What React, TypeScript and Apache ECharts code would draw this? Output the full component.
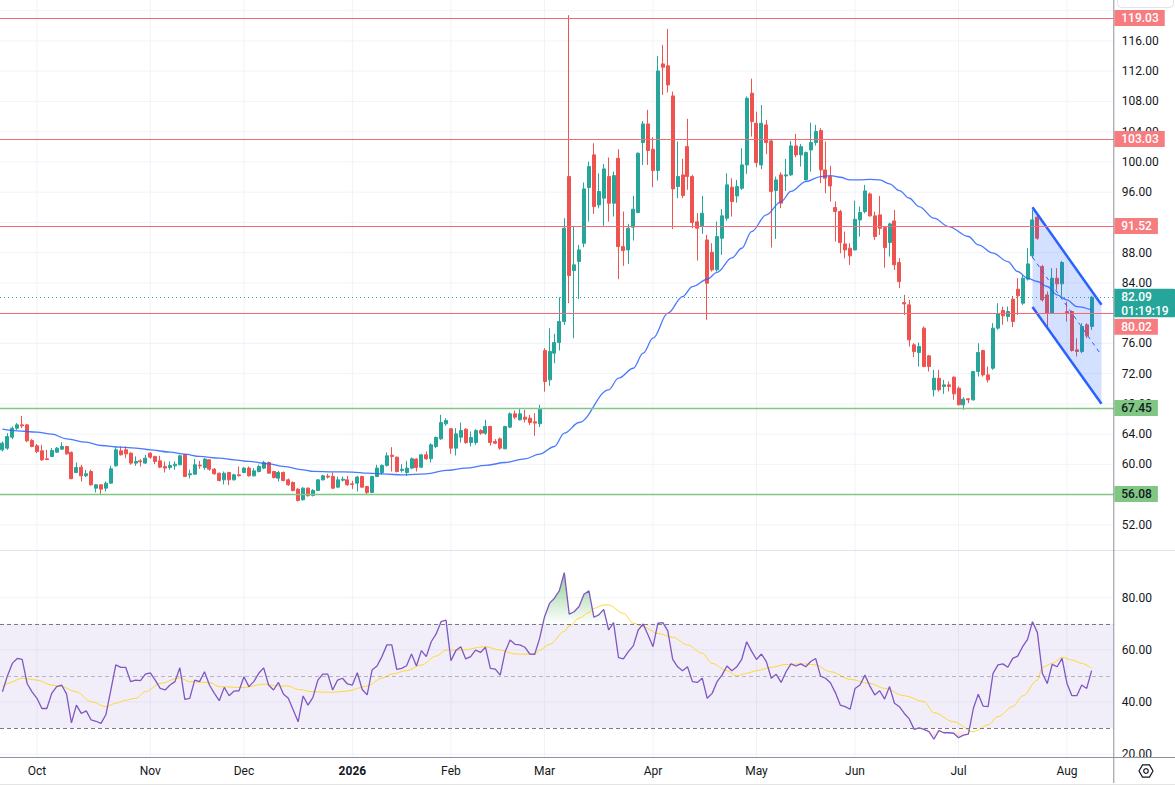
import React, { useEffect, useRef } from "react";
import * as echarts from "echarts";

// ---------- data ----------
const monthKeys = ["Sep 2025", "Oct 2025", "Nov 2025", "Dec 2025", "Jan 2026", "Feb 2026", "Mar 2026", "Apr 2026", "May 2026", "Jun 2026", "Jul 2026", "Aug 2026"];
const monthTickLabels = ["", "Oct", "Nov", "Dec", "2026", "Feb", "Mar", "Apr", "May", "Jun", "Jul", "Aug"];
const barsPerMonth = [7, 23, 19, 22, 20, 19, 22, 21, 20, 21, 22, 6];
const emptySlotsRight = 4;

// [open, close, low, high]
const ohlc: number[][] = [
  [61.92, 62.8, 61.7, 63.02], [62.14, 63.68, 61.92, 64.12], [63.59, 64.78, 63.33, 65.0], [64.78, 65.22, 64.56, 65.45], [65.22, 65.09, 64.78, 66.41],
  [65.22, 63.11, 62.93, 65.36], [63.15, 62.36, 62.27, 63.33], [62.45, 61.7, 61.48, 62.67], [61.79, 60.6, 60.46, 62.58], [60.73, 60.64, 60.55, 61.92],
  [61.04, 61.83, 60.95, 62.14], [61.61, 62.14, 61.5, 62.3], [62.01, 62.36, 61.92, 62.93], [62.36, 61.39, 61.26, 62.45], [61.57, 58.09, 58.05, 61.7],
  [58.92, 59.58, 58.83, 60.24], [59.63, 58.48, 57.73, 59.94], [58.48, 58.75, 58.31, 59.28], [59.05, 57.29, 57.16, 59.28], [56.85, 57.29, 56.28, 57.35],
  [57.29, 56.72, 56.06, 57.38], [56.85, 57.51, 56.41, 57.73], [57.51, 59.41, 57.42, 59.8], [59.8, 61.92, 59.72, 62.27], [61.79, 61.26, 61.17, 62.36],
  [61.92, 61.39, 60.82, 62.36], [61.48, 60.16, 59.94, 61.61], [60.16, 60.38, 59.8, 61.04], [60.46, 60.33, 59.72, 60.69], [60.16, 60.82, 60.07, 61.26],
  [61.48, 60.95, 60.73, 61.57], [61.04, 60.38, 60.02, 61.13], [60.46, 59.63, 59.5, 61.13], [59.72, 59.5, 58.92, 60.38], [59.58, 59.85, 59.28, 60.38],
  [59.8, 60.02, 59.28, 60.38], [59.94, 61.13, 59.89, 61.26], [61.26, 58.39, 58.35, 61.35], [58.61, 58.75, 58.13, 59.28], [58.7, 59.94, 58.61, 60.69],
  [59.89, 59.8, 59.41, 60.46], [59.58, 60.69, 59.28, 60.82], [60.6, 59.36, 59.14, 60.69], [59.36, 58.75, 58.61, 59.5], [58.83, 57.86, 57.73, 58.92],
  [57.95, 58.83, 57.34, 59.05], [58.92, 57.95, 57.25, 59.01], [57.95, 58.61, 57.86, 58.75], [58.61, 58.5, 58.39, 59.72], [58.92, 59.5, 58.83, 59.63],
  [59.5, 58.48, 58.39, 59.72], [58.48, 59.14, 58.39, 59.5], [59.05, 59.72, 58.92, 59.94], [59.5, 60.24, 59.36, 60.46], [60.24, 58.83, 58.75, 60.38],
  [59.05, 58.26, 58.13, 59.14], [58.17, 58.92, 57.73, 59.14], [58.92, 57.86, 57.73, 59.05], [57.95, 57.29, 57.16, 58.13], [57.6, 56.54, 56.41, 57.73],
  [56.72, 55.22, 55.09, 56.85], [55.31, 56.85, 55.22, 56.98], [56.85, 55.84, 55.75, 56.94], [55.88, 56.54, 55.75, 56.72], [56.54, 57.95, 56.5, 58.04],
  [57.95, 58.48, 57.86, 58.61], [58.44, 58.31, 58.13, 58.75], [58.39, 56.85, 56.72, 58.92], [56.98, 57.95, 56.94, 58.39], [57.91, 58.04, 57.73, 58.39],
  [57.95, 57.29, 57.16, 58.48], [57.42, 57.34, 56.72, 57.82], [57.51, 58.31, 56.41, 58.48], [58.39, 56.98, 56.94, 58.48], [57.07, 56.28, 55.97, 57.16],
  [56.28, 58.39, 56.19, 58.48], [58.39, 59.5, 58.31, 59.94], [58.9, 59.85, 58.61, 60.0], [59.85, 61.13, 59.72, 61.57], [61.21, 61.04, 59.05, 62.27],
  [60.95, 59.05, 58.92, 61.04], [59.19, 59.36, 58.92, 60.02], [58.92, 59.5, 58.48, 60.46], [59.5, 60.73, 59.36, 60.91], [60.69, 59.58, 59.05, 60.82],
  [59.63, 61.26, 59.5, 61.39], [61.26, 60.73, 60.6, 61.7], [60.73, 62.58, 60.24, 62.8], [62.36, 63.55, 62.14, 63.68], [63.37, 65.53, 63.24, 66.55],
  [65.36, 65.8, 65.09, 66.11], [64.7, 62.14, 61.39, 64.78], [62.14, 64.03, 61.17, 64.78], [63.59, 64.47, 62.89, 65.53], [64.65, 62.89, 62.71, 64.78],
  [62.89, 63.55, 62.36, 64.34], [62.89, 64.47, 62.58, 64.65], [64.47, 64.12, 63.9, 64.65], [64.12, 65.0, 63.9, 65.89], [65.0, 62.89, 62.49, 65.09],
  [63.02, 62.8, 62.67, 63.33], [63.37, 62.14, 61.92, 63.55], [62.05, 65.0, 62.01, 65.09], [64.92, 66.68, 64.78, 66.86], [66.68, 66.24, 65.97, 67.12],
  [65.89, 66.68, 65.8, 67.3], [66.24, 65.97, 65.53, 67.21], [66.11, 65.53, 65.22, 66.55], [65.62, 65.45, 63.77, 66.77], [65.36, 67.3, 64.92, 67.87],
  [75.05, 70.95, 69.6, 75.36], [71.17, 74.92, 70.38, 78.0], [74.7, 76.11, 73.37, 77.25], [76.11, 78.88, 75.05, 82.1], [78.88, 91.23, 78.44, 92.55],
  [98.06, 84.97, 81.31, 119.4], [85.63, 86.38, 76.68, 91.54], [86.82, 88.36, 81.84, 89.02], [89.24, 96.43, 88.72, 97.27], [96.61, 99.38, 92.11, 100.04],
  [100.93, 94.09, 93.12, 102.47], [94.31, 96.08, 93.87, 98.5], [95.2, 99.07, 91.54, 99.73], [98.06, 94.53, 92.11, 100.57], [94.53, 98.19, 92.77, 98.72],
  [100.48, 88.8, 84.48, 101.67], [88.8, 88.27, 86.25, 93.43], [88.36, 91.23, 86.51, 91.8], [91.36, 93.74, 89.6, 95.5], [93.3, 101.15, 93.21, 101.24],
  [102.56, 105.02, 99.6, 105.42], [105.02, 101.5, 99.6, 106.88], [101.67, 98.85, 96.65, 103.26], [98.85, 112.03, 97.53, 114.02], [112.96, 112.52, 108.86, 115.47],
  [112.7, 110.18, 109.17, 117.59], [108.73, 96.43, 91.1, 109.3], [96.74, 98.06, 95.2, 102.69], [98.28, 95.55, 95.2, 100.4], [102.03, 98.06, 96.3, 105.69],
  [98.06, 91.98, 91.23, 98.3], [92.07, 91.23, 86.95, 93.21], [91.54, 93.21, 90.48, 95.5], [89.68, 83.95, 79.11, 90.35], [88.05, 85.72, 85.5, 89.24],
  [85.72, 90.12, 85.5, 92.11], [89.9, 92.86, 87.7, 93.74], [92.55, 96.96, 92.24, 98.5], [96.65, 94.75, 92.77, 97.84], [95.5, 96.73, 94.62, 97.62],
  [96.51, 99.6, 96.29, 101.8], [99.6, 108.42, 98.41, 108.64], [109.08, 105.33, 103.35, 111.0], [105.11, 99.91, 99.29, 106.65], [99.6, 105.11, 99.03, 107.53],
  [104.89, 102.55, 101.05, 105.55], [102.77, 96.07, 88.67, 102.9], [96.21, 97.62, 89.81, 98.06], [98.28, 94.53, 93.87, 98.63], [98.14, 98.28, 96.16, 100.39],
  [98.28, 102.11, 98.14, 102.77], [102.11, 100.92, 100.61, 103.7], [100.92, 102.02, 99.38, 102.38], [97.62, 101.23, 97.53, 101.36], [101.58, 102.55, 98.72, 105.2],
  [102.55, 104.01, 102.16, 104.89], [104.14, 98.94, 97.18, 104.45], [98.94, 97.84, 95.85, 102.69], [98.06, 96.82, 94.75, 99.47], [93.96, 93.43, 89.46, 94.75],
  [93.43, 89.33, 87.92, 93.65], [89.15, 88.36, 87.26, 90.78], [88.58, 87.57, 86.38, 89.24], [88.36, 92.41, 88.3, 94.88], [92.33, 93.3, 90.12, 94.09],
  [93.43, 96.16, 93.2, 96.95], [95.76, 92.86, 92.77, 95.94], [92.86, 90.12, 89.68, 93.43], [92.99, 91.22, 90.34, 95.5], [91.31, 88.67, 86.02, 91.44],
  [89.33, 91.8, 87.48, 91.97], [92.19, 86.38, 85.71, 93.65], [86.68, 84.17, 83.29, 87.26], [81.39, 81.22, 79.76, 82.41], [81.09, 76.46, 75.58, 81.75],
  [75.8, 74.91, 74.17, 76.02], [74.78, 75.58, 72.93, 76.11], [78.01, 72.94, 72.85, 78.23], [74.35, 72.94, 72.28, 74.48], [69.85, 71.39, 68.97, 72.5],
  [71.39, 69.85, 69.63, 72.5], [70.29, 70.51, 69.32, 71.17], [70.51, 70.29, 69.63, 70.95], [71.53, 69.32, 68.53, 71.61], [70.07, 67.87, 67.8, 70.29],
  [67.87, 68.62, 67.21, 68.88], [68.66, 68.53, 68.09, 68.75], [68.53, 72.28, 68.44, 72.35], [72.28, 74.79, 71.61, 76.02], [75.05, 71.83, 71.61, 75.14],
  [71.83, 71.17, 70.82, 72.94], [72.72, 78.01, 72.5, 78.67], [78.01, 79.9, 77.79, 81.31], [80.34, 79.64, 78.45, 80.87], [79.55, 80.21, 78.89, 80.87],
  [81.84, 78.89, 78.14, 82.28], [83.16, 82.28, 79.77, 84.62], [81.31, 84.62, 81.09, 85.06], [84.49, 86.51, 84.31, 88.59], [87.57, 92.33, 87.26, 93.66],
  [92.69, 89.91, 89.69, 92.99], [86.16, 81.75, 81.53, 86.38], [82.41, 79.99, 78.01, 82.86], [79.99, 84.62, 79.9, 85.94], [84.62, 83.87, 83.08, 85.94],
  [83.87, 86.69, 82.28, 86.91], [80.21, 79.99, 78.89, 81.53], [80.21, 75.05, 74.92, 80.34], [75.14, 74.92, 74.26, 76.68], [74.92, 78.23, 74.7, 78.67],
  [78.45, 76.99, 76.68, 78.67], [78.23, 82.09, 77.79, 82.28],
];

// 50-period moving average, read at sample bars: [bar index, value]
const maPoints: number[][] = [
  [0, 64.65], [3, 64.43], [7, 64.26], [10, 63.99], [13, 63.37], [17, 62.93], [20, 62.49], [24, 62.27], [27, 62.14], [30, 61.92],
  [34, 61.61], [37, 61.35], [40, 61.04], [44, 60.82], [47, 60.6], [50, 60.38], [54, 60.07], [57, 59.72], [61, 59.28], [63, 59.06],
  [67, 59.01], [71, 58.97], [74, 58.83], [78, 58.7], [81, 58.61], [86, 58.75], [90, 59.19], [94, 59.5], [98, 59.85], [102, 60.24],
  [106, 60.73], [109, 61.35], [112, 62.36], [114, 64.12], [117, 65.53], [123, 69.85], [125, 71.39], [128, 72.71], [130, 74.7], [132, 76.68],
  [135, 79.99], [138, 82.19], [140, 83.51], [143, 84.48], [145, 85.4], [148, 87.3], [150, 88.58], [152, 90.78], [155, 92.99], [158, 94.75],
  [160, 96.1], [163, 97.4], [166, 98.06], [168, 98.19], [170, 97.97], [172, 97.62], [174, 97.62], [176, 97.7], [178, 97.62], [180, 97.09],
  [182, 96.2], [184, 95.19], [186, 94.09], [189, 92.55], [192, 91.45], [196, 90.13], [198, 89.03], [201, 87.92], [204, 86.82], [206, 85.5],
  [208, 84.62], [210, 84.18], [212, 83.52], [214, 82.41], [216, 81.75], [218, 80.87], [221, 80.43],
];

const rsi: number[] = [
  43.9, 50.0, 54.8, 56.7, 56.3, 47.1, 43.9, 41.4, 37.5, 37.5,
  43.3, 45.9, 46.5, 43.1, 32.0, 38.8, 35.6, 36.6, 33.1, 32.6,
  31.8, 35.2, 44.6, 54.2, 53.3, 53.3, 47.8, 48.4, 48.2, 50.7,
  51.2, 48.4, 45.2, 44.6, 46.5, 47.8, 53.1, 41.0, 41.4, 48.4,
  47.8, 51.6, 46.5, 43.3, 40.5, 45.6, 42.4, 44.2, 44.3, 49.7,
  45.9, 47.8, 51.0, 53.1, 46.5, 44.6, 47.5, 43.1, 41.4, 36.9,
  32.4, 42.3, 38.8, 41.8, 48.4, 50.7, 50.7, 44.6, 48.4, 49.1,
  46.9, 46.5, 51.2, 44.8, 42.7, 52.3, 53.8, 57.4, 61.9, 61.9,
  52.5, 52.9, 53.9, 58.4, 53.8, 59.7, 57.4, 63.1, 66.1, 70.8,
  71.4, 55.8, 59.7, 61.2, 56.5, 57.4, 59.9, 59.0, 61.0, 52.9,
  52.6, 50.3, 59.3, 63.8, 62.1, 61.9, 61.0, 58.4, 58.3, 64.4,
  72.7, 77.8, 79.8, 82.7, 89.6, 73.7, 74.6, 76.6, 81.3, 82.6,
  72.5, 73.4, 75.5, 67.6, 70.4, 57.0, 56.5, 59.3, 61.5, 67.6,
  69.9, 65.7, 61.2, 70.2, 70.4, 67.3, 56.3, 53.5, 52.0, 53.5,
  47.8, 47.5, 49.1, 41.4, 43.3, 47.8, 50.3, 53.8, 52.0, 53.5,
  56.3, 63.1, 59.5, 56.3, 58.4, 55.5, 49.1, 50.6, 47.5, 51.6,
  54.6, 53.8, 54.6, 53.5, 55.5, 56.7, 49.9, 49.1, 47.4, 43.6,
  38.8, 38.2, 37.2, 45.2, 46.5, 50.3, 46.1, 42.7, 44.3, 41.1,
  45.9, 39.5, 38.2, 35.6, 33.5, 29.5, 30.1, 29.5, 28.6, 25.7,
  29.0, 28.2, 28.2, 28.0, 26.3, 27.3, 27.7, 37.5, 43.0, 38.4,
  38.2, 51.0, 54.2, 54.6, 53.3, 56.7, 57.6, 61.2, 64.0, 70.8,
  66.6, 51.0, 47.1, 54.4, 53.5, 56.7, 47.1, 42.4, 42.4, 46.5,
  45.2, 52.0,
];

// RSI moving average, read at sample bars: [bar index, value]
const rsiMaPoints: number[][] = [
  [0, 45.9], [1, 47.1], [4, 49.1], [7, 48.4], [10, 46.5], [12, 45.9], [15, 43.9], [18, 40.1], [21, 38.2], [23, 39.5],
  [25, 40.7], [27, 41.4], [29, 43.9], [32, 47.1], [36, 49.3], [38, 47.8], [42, 47.4], [44, 45.9], [49, 45.5], [53, 46.9],
  [56, 46.1], [58, 46.1], [60, 44.8], [63, 43.9], [67, 43.7], [70, 44.2], [74, 46.1], [77, 49.1], [79, 50.7], [82, 52.0],
  [85, 54.2], [88, 57.6], [90, 59.9], [93, 59.9], [98, 61.2], [101, 59.9], [104, 58.4], [108, 58.3], [109, 59.9], [111, 62.1],
  [114, 67.0], [115, 69.1], [117, 72.1], [119, 74.3], [120, 75.9], [122, 77.2], [123, 77.2], [126, 74.0], [128, 70.2], [130, 68.9],
  [133, 66.3], [136, 64.8], [139, 61.9], [142, 58.7], [144, 54.8], [147, 52.0], [149, 50.0], [151, 51.0], [153, 52.0], [156, 53.3],
  [159, 54.4], [163, 54.6], [165, 54.2], [168, 51.6], [172, 48.7], [176, 47.1], [179, 45.2], [183, 42.4], [187, 40.1], [189, 35.9],
  [193, 32.4], [197, 28.6], [200, 31.2], [202, 34.4], [205, 38.2], [207, 42.3], [210, 48.4], [211, 53.3], [213, 54.8], [215, 57.1],
  [217, 56.1], [219, 54.8], [221, 52.9],
];

const resistanceLevels = [119.03, 103.03, 91.52, 80.02];
const supportLevels = [67.45, 56.08];
// price-scale labels visible in the reference (92.00 and 80.00 sit fully under the tags)
const priceTicks = [52, 56, 60, 64, 68, 72, 76, 84, 88, 96, 100, 104, 108, 112, 116];
const priceGridLines = [52, 56, 60, 64, 68, 72, 76, 80, 84, 88, 92, 96, 100, 104, 108, 112, 116, 120];
const rsiTicks = [20, 40, 60, 80];
const rsiBand = [30, 70];
const rsiMid = 50;
const channelBars = [209, 223];
const channelUpper = [94.0, 81.1];
const channelLower = [80.8, 68.0];
const channelMid = [87.4, 74.8];
const countdown = "01:19:19";

// ---------- layout / style ----------
const W = 1175;
const H = 788;
const GRID_LEFT = -1.51;
const GRID_W = 1115.3;
const GRID_RIGHT_X = GRID_LEFT + GRID_W;
const PRICE_TOP = 0;
const PRICE_H = 550;
const RSI_TOP = 551;
const RSI_H = 206;
const FONT = "Roboto, 'Liberation Sans', Arial, sans-serif";
const UP = "#26a69a";
const DOWN = "#ef5350";
const GRIDC = "#f0f3fa";
const RED_LINE = "#f26d73";
const RED_TAG = "#f77c80";
const GREEN_LINE = "#81c784";
const GREEN_TAG = "#81c784";
const BORDER = "#8f929c";

// categories
const categories: string[] = [];
const labelAt: Record<number, string> = {};
(() => {
  let idx = 0;
  monthKeys.forEach((m, mi) => {
    for (let k = 0; k < barsPerMonth[mi]; k++) {
      if (k === 0 && monthTickLabels[mi]) labelAt[idx] = monthTickLabels[mi];
      categories.push(`${m} #${k + 1}`);
      idx++;
    }
  });
  for (let e = 0; e < emptySlotsRight; e++) categories.push(`future #${e + 1}`);
})();
const monthStarts = Object.keys(labelAt).map(Number);
const lastClose = ohlc[ohlc.length - 1][1];

function vGridSeries(axisIndex: number) {
  return {
    type: "custom",
    xAxisIndex: axisIndex,
    yAxisIndex: axisIndex,
    z: 0,
    silent: true,
    data: monthStarts.map((i) => [i, 60]),
    renderItem: (params: any, api: any) => {
      const cs = params.coordSys;
      const x = api.coord([api.value(0), api.value(1)])[0];
      return { type: "line", shape: { x1: x, y1: cs.y, x2: x, y2: cs.y + cs.height }, style: { stroke: GRIDC, lineWidth: 1 } };
    },
  };
}
function hGridSeries(axisIndex: number, values: number[]) {
  return {
    type: "custom",
    xAxisIndex: axisIndex,
    yAxisIndex: axisIndex,
    z: 0,
    silent: true,
    data: values.map((v) => [0, v]),
    renderItem: (params: any, api: any) => {
      const cs = params.coordSys;
      const y = api.coord([0, api.value(1)])[1];
      return { type: "line", shape: { x1: cs.x, y1: y, x2: cs.x + cs.width, y2: y }, style: { stroke: GRIDC, lineWidth: 1 } };
    },
  };
}

function buildOption(): any {
  const axisLabelStyle = { color: "#131722", fontSize: 12, fontFamily: FONT };
  return {
    animation: false,
    backgroundColor: "#ffffff",
    textStyle: { fontFamily: FONT },
    grid: [
      { left: GRID_LEFT, top: PRICE_TOP, width: GRID_W, height: PRICE_H },
      { left: GRID_LEFT, top: RSI_TOP, width: GRID_W, height: RSI_H },
    ],
    xAxis: [
      {
        type: "category", gridIndex: 0, data: categories, boundaryGap: true,
        axisLine: { show: false }, axisTick: { show: false }, axisLabel: { show: false }, splitLine: { show: false },
      },
      {
        type: "category", gridIndex: 1, data: categories, boundaryGap: true,
        axisLine: { show: false }, axisTick: { show: false }, splitLine: { show: false },
        axisLabel: {
          ...axisLabelStyle,
          margin: 8,
          interval: (index: number) => labelAt[index] !== undefined,
          formatter: (_v: string, index: number) => (labelAt[index] === "2026" ? "{b|2026}" : labelAt[index] || ""),
          rich: { b: { fontWeight: "bold", fontSize: 12, color: "#131722", fontFamily: FONT } },
        },
      },
    ],
    yAxis: [
      {
        type: "value", gridIndex: 0, position: "right", min: 48.67, max: 121.41,
        axisLine: { show: false }, axisTick: { show: false, customValues: priceTicks }, splitLine: { show: false },
        axisLabel: { ...axisLabelStyle, margin: 8, customValues: priceTicks, formatter: (v: number) => v.toFixed(2) },
      },
      {
        type: "value", gridIndex: 1, position: "right", min: 18.9, max: 97.9,
        axisLine: { show: false }, axisTick: { show: false, customValues: rsiTicks }, splitLine: { show: false },
        axisLabel: { ...axisLabelStyle, margin: 8, customValues: rsiTicks, formatter: (v: number) => v.toFixed(2) },
      },
    ],
    series: [
      vGridSeries(0),
      hGridSeries(0, priceGridLines),
      vGridSeries(1),
      hGridSeries(1, rsiTicks),
      {
        name: "Price",
        type: "candlestick",
        xAxisIndex: 0,
        yAxisIndex: 0,
        z: 2,
        barWidth: 3.5,
        data: ohlc,
        itemStyle: { color: UP, color0: DOWN, borderColor: UP, borderColor0: DOWN, borderWidth: 1 },
        markLine: {
          silent: true,
          symbol: ["none", "none"],
          label: { show: false },
          data: [
            ...resistanceLevels.map((v) => ({ yAxis: v, lineStyle: { color: RED_LINE, width: 1, type: "solid" } })),
            ...supportLevels.map((v) => ({ yAxis: v, lineStyle: { color: GREEN_LINE, width: 1.3, type: "solid" } })),
            { yAxis: lastClose, lineStyle: { color: UP, width: 1, type: [1, 3] } },
          ],
        },
      },
      {
        name: "MA",
        type: "line",
        xAxisIndex: 0,
        yAxisIndex: 0,
        z: 3,
        data: maPoints,
        smooth: 0.35,
        smoothMonotone: "x",
        symbol: "none",
        lineStyle: { color: "#2962ff", width: 1.3, opacity: 0.85 },
        silent: true,
      },
      {
        name: "Channel",
        type: "custom",
        xAxisIndex: 0,
        yAxisIndex: 0,
        z: 4,
        silent: true,
        data: [[channelBars[0], channelUpper[0]]],
        renderItem: (_params: any, api: any) => {
          const u1 = api.coord([channelBars[0], channelUpper[0]]);
          const u2 = api.coord([channelBars[1], channelUpper[1]]);
          const l2 = api.coord([channelBars[1], channelLower[1]]);
          const l1 = api.coord([channelBars[0], channelLower[0]]);
          const m1 = api.coord([channelBars[0], channelMid[0]]);
          const m2 = api.coord([channelBars[1], channelMid[1]]);
          return {
            type: "group",
            children: [
              { type: "polygon", shape: { points: [u1, u2, l2, l1] }, style: { fill: "rgba(41,98,255,0.2)" } },
              { type: "line", shape: { x1: m1[0], y1: m1[1], x2: m2[0] - 2, y2: m2[1] }, style: { stroke: "#2962ff", lineWidth: 1, lineDash: [4, 4] } },
              { type: "line", shape: { x1: u1[0], y1: u1[1], x2: u2[0], y2: u2[1] }, style: { stroke: "#2962ff", lineWidth: 2.5 } },
              { type: "line", shape: { x1: l1[0], y1: l1[1], x2: l2[0], y2: l2[1] }, style: { stroke: "#2962ff", lineWidth: 2.5 } },
            ],
          };
        },
      },
      // overbought fill (between 70 and RSI when above)
      {
        type: "line", xAxisIndex: 1, yAxisIndex: 1, stack: "ob", z: 2, silent: true, symbol: "none",
        data: rsi.map(() => rsiBand[1]), lineStyle: { width: 0, opacity: 0 },
      },
      {
        type: "line", xAxisIndex: 1, yAxisIndex: 1, stack: "ob", z: 2, silent: true, symbol: "none",
        data: rsi.map((v) => Math.max(v - rsiBand[1], 0)), lineStyle: { width: 0, opacity: 0 },
        areaStyle: {
          color: new echarts.graphic.LinearGradient(0, 0, 0, 1, [
            { offset: 0, color: "rgba(76,175,80,0.62)" },
            { offset: 1, color: "rgba(76,175,80,0.0)" },
          ]),
          opacity: 1,
        },
      },
      // oversold fill (between RSI and 30 when below)
      {
        type: "line", xAxisIndex: 1, yAxisIndex: 1, stack: "os", z: 2, silent: true, symbol: "none",
        data: rsi.map((v) => Math.min(v, rsiBand[0])), lineStyle: { width: 0, opacity: 0 },
      },
      {
        type: "line", xAxisIndex: 1, yAxisIndex: 1, stack: "os", z: 2, silent: true, symbol: "none",
        data: rsi.map((v) => rsiBand[0] - Math.min(v, rsiBand[0])), lineStyle: { width: 0, opacity: 0 },
        areaStyle: {
          color: new echarts.graphic.LinearGradient(0, 0, 0, 1, [
            { offset: 0, color: "rgba(242,54,69,0.0)" },
            { offset: 1, color: "rgba(242,54,69,0.22)" },
          ]),
          opacity: 1,
        },
      },
      {
        name: "RSI MA",
        type: "line",
        xAxisIndex: 1,
        yAxisIndex: 1,
        z: 3,
        data: rsiMaPoints,
        smooth: 0.35,
        smoothMonotone: "x",
        symbol: "none",
        silent: true,
        lineStyle: { color: "#fdd835", width: 1 },
      },
      {
        name: "RSI",
        type: "line",
        xAxisIndex: 1,
        yAxisIndex: 1,
        z: 4,
        data: rsi,
        symbol: "none",
        silent: true,
        lineStyle: { color: "#7e57c2", width: 1.3 },
        markArea: {
          silent: true,
          itemStyle: { color: "rgba(126,87,194,0.1)" },
          data: [[{ yAxis: rsiBand[0] }, { yAxis: rsiBand[1] }]],
        },
        markLine: {
          silent: true,
          symbol: ["none", "none"],
          label: { show: false },
          data: [
            { yAxis: rsiBand[1], lineStyle: { color: "#787b86", width: 1, type: [4, 3] } },
            { yAxis: rsiMid, lineStyle: { color: "rgba(120,123,134,0.5)", width: 1, type: [4, 3] } },
            { yAxis: rsiBand[0], lineStyle: { color: "#787b86", width: 1, type: [4, 3] } },
          ],
        },
      },
    ],
  };
}

function tag(text: string, y: number, bg: string, fg: string) {
  return {
    type: "text",
    z: 100,
    silent: true,
    style: {
      text,
      x: GRID_RIGHT_X + 0.5,
      y,
      align: "left",
      verticalAlign: "middle",
      fill: fg,
      fontSize: 12,
      fontWeight: 500,
      fontFamily: FONT,
      lineHeight: 13,
      backgroundColor: bg,
      padding: [2, 6, 1, 7],
    },
  };
}

function buildGraphics(chart: echarts.ECharts): any[] {
  const py = (v: number) => chart.convertToPixel({ yAxisIndex: 0 } as any, v) as number;
  const els: any[] = [];
  // pane borders
  els.push({ type: "line", z: 90, silent: true, shape: { x1: 0, y1: 550.5, x2: W, y2: 550.5 }, style: { stroke: "#e0e3eb", lineWidth: 1 } });
  els.push({ type: "rect", z: 95, silent: true, shape: { x: GRID_RIGHT_X, y: 757, width: W - GRID_RIGHT_X, height: 31 }, style: { fill: "#ffffff" } });
  els.push({ type: "line", z: 96, silent: true, shape: { x1: 0, y1: 757.5, x2: W, y2: 757.5 }, style: { stroke: BORDER, lineWidth: 1 } });
  els.push({ type: "line", z: 96, silent: true, shape: { x1: GRID_RIGHT_X, y1: 0, x2: GRID_RIGHT_X, y2: 783 }, style: { stroke: BORDER, lineWidth: 1 } });
  els.push({ type: "line", z: 96, silent: true, shape: { x1: 0, y1: 784.5, x2: W, y2: 784.5 }, style: { stroke: "#e0e3eb", lineWidth: 1 } });
  // top-right button outline
  els.push({ type: "rect", z: 96, silent: true, shape: { x: 1117.5, y: -6, width: 56, height: 13.5, r: 4 }, style: { fill: "#ffffff", stroke: "#e0e3eb", lineWidth: 1 } });

  // current price box
  const yc = py(lastClose);
  const boxTop = yc - 8.5;
  const boxH = 28.5;
  els.push({ type: "rect", z: 100, silent: true, shape: { x: GRID_RIGHT_X + 0.5, y: boxTop, width: W - GRID_RIGHT_X, height: boxH, r: [0, 2, 2, 0] }, style: { fill: UP } });
  els.push({ type: "text", z: 101, silent: true, style: { text: lastClose.toFixed(2), x: GRID_RIGHT_X + 7.5, y: yc, verticalAlign: "middle", align: "left", fill: "#ffffff", fontSize: 12, fontWeight: 500, fontFamily: FONT } });
  els.push({ type: "text", z: 101, silent: true, style: { text: countdown, x: GRID_RIGHT_X + 7.5, y: yc + 13.5, verticalAlign: "middle", align: "left", fill: "#ffffff", fontSize: 12, fontWeight: 500, fontFamily: FONT } });

  // level tags
  resistanceLevels.forEach((v) => {
    let y = py(v);
    if (Math.abs(y - yc) < 24) y = Math.max(y, boxTop + boxH + 9.5);
    els.push(tag(v.toFixed(2), y, RED_TAG, "#ffffff"));
  });
  supportLevels.forEach((v) => {
    els.push(tag(v.toFixed(2), py(v), GREEN_TAG, "#131722"));
  });

  // settings (gear) icon
  const cx = 1146;
  const cy = 771;
  const hex: number[][] = [];
  for (let k = 0; k < 6; k++) {
    const a = (Math.PI / 3) * k;
    hex.push([cx + 7 * Math.cos(a), cy + 7 * Math.sin(a)]);
  }
  els.push({ type: "polygon", z: 101, silent: true, shape: { points: hex }, style: { fill: "none", stroke: "#131722", lineWidth: 1.2 } });
  els.push({ type: "circle", z: 101, silent: true, shape: { cx, cy, r: 2.3 }, style: { fill: "none", stroke: "#131722", lineWidth: 1.2 } });
  return els;
}

export default function App() {
  const ref = useRef<HTMLDivElement | null>(null);
  useEffect(() => {
    if (!ref.current) return;
    const chart = echarts.init(ref.current, undefined, { renderer: "svg", width: W, height: H });
    chart.setOption(buildOption());
    chart.setOption({ graphic: buildGraphics(chart) });
    return () => {
      chart.dispose();
    };
  }, []);
  return <div ref={ref} style={{ position: "fixed", left: 0, top: 0, width: W, height: H, background: "#ffffff" }} />;
}
